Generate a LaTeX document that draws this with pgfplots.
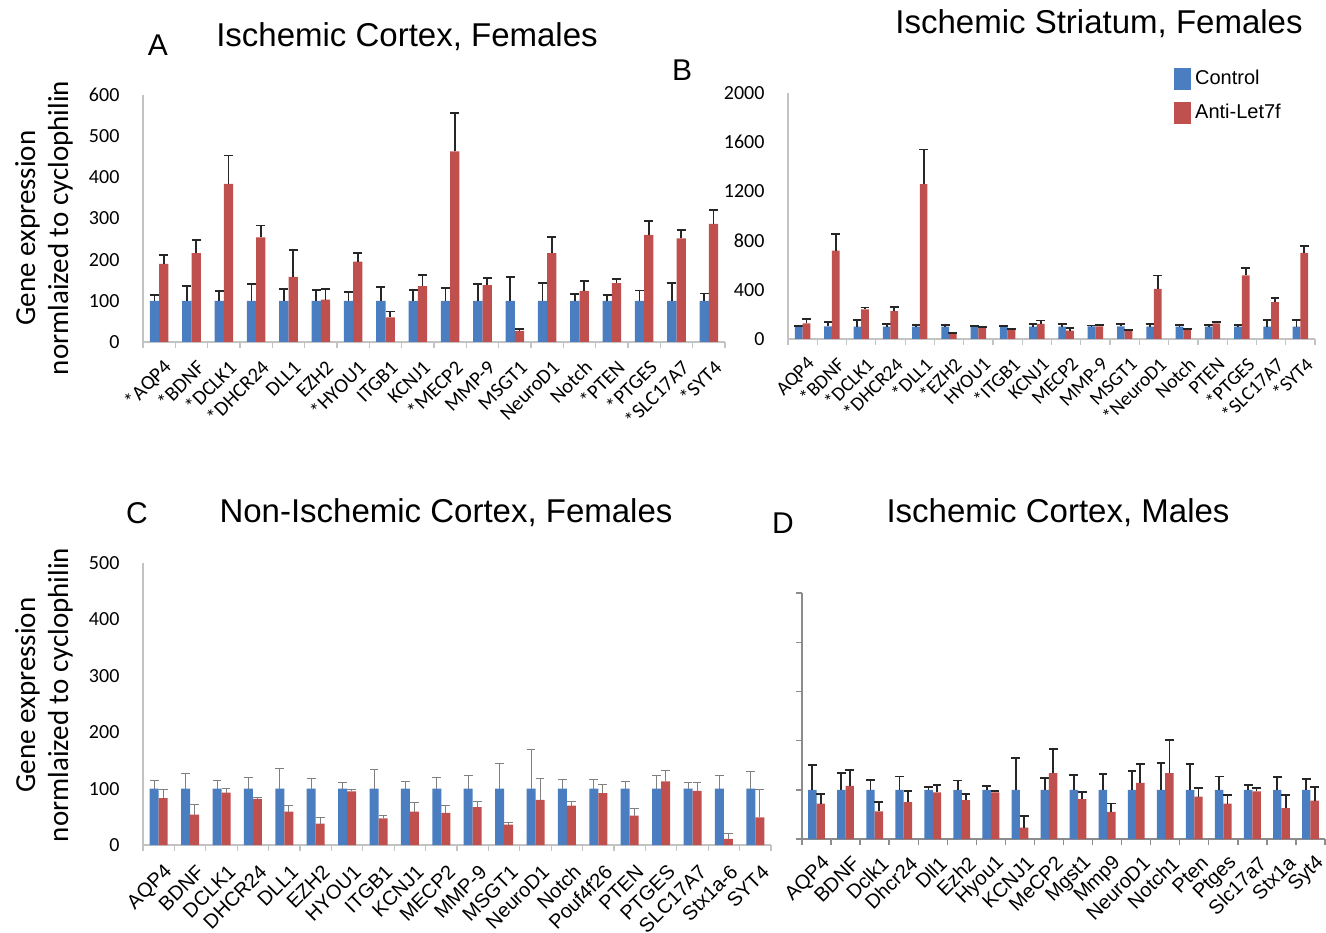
\documentclass[border=0pt]{standalone}
\usepackage{fontspec}
\setmainfont{Liberation Sans}
\newfontfamily\carlito{Carlito}
\usepackage{pgfplots}
\pgfplotsset{compat=1.18}
\usepackage{pgfplotstable}

\definecolor{cblue}{RGB}{74,126,193}
\definecolor{cred}{RGB}{192,80,77}
\definecolor{axgray}{RGB}{195,195,195}

\pgfplotstableread{
x c ce a ae
0 100 15 190 22
1 100 37 216 32
2 100 24 384 69
3 100 40 254 29
4 100 29 158 66
5 100 27 103 25
6 100 21 195 22
7 100 33 60 14
8 100 26 136 27
9 100 31 463 94
10 100 40 138 17
11 100 57 27 4
12 100 43 216 39
13 100 17 124 24
14 100 15 143 10
15 100 25 260 34
16 100 43 252 20
17 100 18 287 33
}\tA

\pgfplotstableread{
x c ce a ae
0 103 3 128 32
1 103 33 718 136
2 100 52 240 16
3 100 22 226 32
4 100 17 1260 280
5 100 12 46 2
6 103 2 95 2
7 100 3 79 3
8 100 22 122 28
9 100 22 68 19
10 103 6 103 14
11 103 19 68 2
12 100 22 408 109
13 100 17 82 2
14 100 14 128 13
15 100 14 517 60
16 100 55 299 36
17 100 55 700 54
}\tB

\pgfplotstableread{
x c ce a ae
0 100 15 83 16
1 100 26 54 17
2 100 14 93 8
3 100 20 82 2
4 100 35 59 11
5 100 18 38 10
6 100 11 95 3
7 100 33 47 5
8 100 12 59 17
9 100 19 57 13
10 100 23 67 11
11 100 45 36 4
12 100 70 80 38
13 100 17 70 8
14 100 16 92 15
15 100 13 52 13
16 100 24 113 19
17 100 10 96 14
18 100 23 11 10
19 100 30 49 49
}\tC

\pgfplotstableread{
x c ce a ae
0 100 50 72 19
1 100 34 108 32
2 100 20 56 20
3 100 27 75 22
4 100 5 95 14
5 100 19 79 13
6 100 7 95 2
7 100 64 23 23
8 100 24 134 49
9 100 30 81 14
10 100 32 55 17
11 100 39 114 39
12 100 55 134 67
13 100 53 86 18
14 100 27 72 17
15 100 9 97 7
16 100 26 63 27
17 100 22 78 27
}\tD

\pgfplotsset{
  panel/.style={
    scale only axis, anchor=south west, ybar=0pt,
    axis x line*=bottom, axis y line*=left,
    axis line style={axgray, line width=0.6pt},
    ymin=0, enlargelimits=false, clip=false,
    xtick={0,...,#1}, major x tick style={draw=none},
    minor xtick={-0.5,0.5,...,#1.5},
    minor x tick style={axgray, line width=0.6pt},
    minor tick length=3pt, tick align=outside,
    ytick style={draw=none},
    xmin=-0.5, xmax=#1.5,
    /pgf/number format/assume math mode=true,
    /pgf/number format/1000 sep={},
    yticklabel style={font=\carlito\fontsize{10}{12}\selectfont, xshift=-4pt},
    xticklabel style={rotate=45, anchor=east, font=\carlito\fontsize{10.2}{12}\selectfont, yshift=-8pt, xshift=-0.5pt, inner sep=1pt},
  },
  blackerr/.style={error bars/.cd, y dir=plus, y explicit,
    error bar style={line width=0.9pt, black!85},
    error mark options={rotate=90, mark size=2.2pt, line width=0.9pt, black!85}},
  grayerr/.style={error bars/.cd, y dir=plus, y explicit,
    error bar style={line width=0.5pt, black!50},
    error mark options={rotate=90, mark size=2.2pt, line width=0.5pt, black!50}},
}

\begin{document}
\begin{tikzpicture}
\clip (0,0) rectangle (663pt,466pt);
\path[use as bounding box] (0,0) rectangle (663pt,466pt);

% Panel A
\begin{axis}[panel=17, at={(71.5pt,295pt)}, width=291pt, height=123.5pt,
  ymax=600, ytick={0,100,...,600},
  xticklabels={*AQP4,*BDNF,*DCLK1,*DHCR24,DLL1,EZH2,*HYOU1,ITGB1,KCNJ1,*MECP2,MMP-9,MSGT1,NeuroD1,Notch,*PTEN,*PTGES,*SLC17A7,*SYT4},
  bar width=4.65pt]
\addplot[fill=cblue, draw=none, blackerr] table[x=x, y=c, y error=ce] {\tA};
\addplot[fill=cred, draw=none, blackerr] table[x=x, y=a, y error=ae] {\tA};
\end{axis}

% Panel B
\begin{axis}[panel=17, at={(394pt,296.5pt)}, width=263.5pt, height=123pt,
  ymax=2000, ytick={0,400,...,2000},
  xticklabels={AQP4,*BDNF,*DCLK1,*DHCR24,*DLL1,*EZH2,HYOU1,*ITGB1,KCNJ1,MECP2,MMP-9,MSGT1,*NeuroD1,Notch,PTEN,*PTGES,*SLC17A7,*SYT4},
  xticklabel style={font=\carlito\fontsize{9.8}{12}\selectfont},
  bar width=3.85pt,
  legend style={at={(0.732,1.11)}, anchor=north west, draw=none, fill=none,
    font=\fontsize{10}{12}\selectfont, row sep=4pt, inner sep=0pt,
    nodes={inner sep=2pt}},
  legend cell align=left,
  legend image code/.code={\path[#1] (0pt,-5.5pt) rectangle (8.5pt,5.5pt);},
  /tikz/every even column/.append style={column sep=3pt}]
\addplot[fill=cblue, draw=none, blackerr] table[x=x, y=c, y error=ce] {\tB};
\addlegendentry{Control}
\addplot[fill=cred, draw=none, blackerr] table[x=x, y=a, y error=ae] {\tB};
\addlegendentry{Anti-Let7f}
\end{axis}

% Panel C
\begin{axis}[panel=19, at={(71.5pt,43.5pt)}, width=314pt, height=141pt,
  ymax=500, ytick={0,100,...,500},
  xticklabels={AQP4,BDNF,DCLK1,DHCR24,DLL1,EZH2,HYOU1,ITGB1,KCNJ1,MECP2,MMP-9,MSGT1,NeuroD1,Notch,Pouf4f26,PTEN,PTGES,SLC17A7,Stx1a-6,SYT4},
  xticklabel style={font=\fontsize{10}{12}\selectfont, yshift=-1pt, xshift=0pt},
  bar width=4.5pt]
\addplot[fill=cblue, draw=none, grayerr] table[x=x, y=c, y error=ce] {\tC};
\addplot[fill=cred, draw=none, grayerr] table[x=x, y=a, y error=ae] {\tC};
\end{axis}

% Panel D
\begin{axis}[panel=17, at={(401pt,46.5pt)}, width=261.5pt, height=123pt,
  ymax=500, ytick={0,100,...,500}, yticklabels={},
  axis line style={black!45, line width=0.7pt},
  minor x tick style={black!45, line width=0.7pt},
  ytick style={black!45, line width=0.7pt, draw}, major tick length=3pt,
  xticklabels={AQP4,BDNF,Dclk1,Dhcr24,Dll1,Ezh2,Hyou1,KCNJ1,MeCP2,Mgst1,Mmp9,NeuroD1,Notch1,Pten,Ptges,Slc17a7,Stx1a,Syt4},
  xticklabel style={font=\fontsize{10}{12}\selectfont, yshift=-1pt, xshift=0pt},
  bar width=4.2pt]
\addplot[fill=cblue, draw=none, blackerr] table[x=x, y=c, y error=ce] {\tD};
\addplot[fill=cred, draw=none, blackerr] table[x=x, y=a, y error=ae] {\tD};
\end{axis}

% Titles and panel letters
\node[font=\fontsize{16.5}{19}\selectfont] at (203.5pt,447.5pt) {Ischemic Cortex, Females};
\node[font=\fontsize{16.5}{19}\selectfont] at (549.5pt,454pt) {Ischemic Striatum, Females};
\node[font=\fontsize{16.5}{19}\selectfont] at (223pt,209.5pt) {Non-Ischemic Cortex, Females};
\node[font=\fontsize{16.5}{19}\selectfont] at (529pt,209.5pt) {Ischemic Cortex, Males};
\node[font=\fontsize{15}{18}\selectfont] at (79pt,443.5pt) {A};
\node[font=\fontsize{15}{18}\selectfont] at (341pt,431pt) {B};
\node[font=\fontsize{15}{18}\selectfont] at (68.5pt,209.5pt) {C};
\node[font=\fontsize{15}{18}\selectfont] at (391.5pt,204.5pt) {D};

% Y labels
\node[rotate=90, align=center, font=\carlito\fontsize{14.5}{16.5}\selectfont] at (22pt,352pt) {Gene expression\\normlaized to cyclophilin};
\node[rotate=90, align=center, font=\carlito\fontsize{14.5}{16.5}\selectfont] at (22pt,118.5pt) {Gene expression\\normlaized to cyclophilin};
\end{tikzpicture}
\end{document}
